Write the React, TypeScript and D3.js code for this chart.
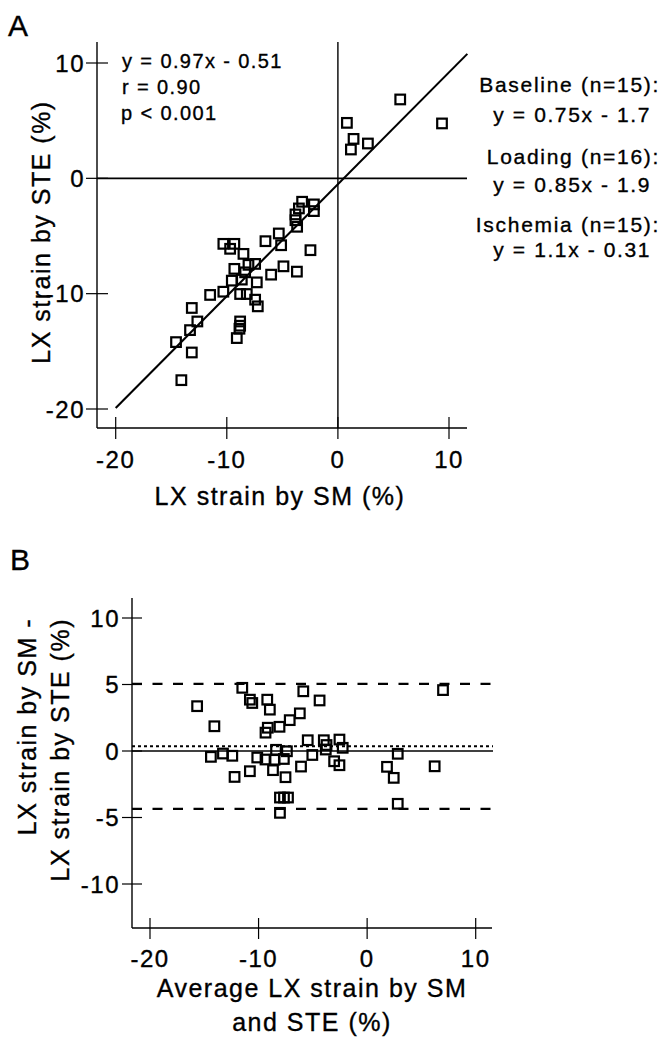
import React, { useEffect, useRef } from 'react';
import * as d3 from 'd3';

// Panel A: LX strain by SM (x) vs LX strain by STE (y), in %
const smStrain = [
  5.61, 9.37, 0.81, 1.41, 1.17, 2.7,
  -3.22, -2.16, -3.51, -2.16, -3.82, -3.82, -3.67, -5.32, -5.11, -6.52, -2.47,
  -10.31, -9.32, -9.7, -8.5, -8.05, -7.45, -9.32, -8.35, -6.01, -4.9, -3.69,
  -9.55, -8.65, -7.3, -11.5, -10.31, -8.8, -8.2, -7.45, -7.21,
  -13.15, -12.65, -13.31, -14.57, -13.15, -8.8, -8.8, -8.86, -9.1, -14.09
];
const steStrain = [
  6.84, 4.76, 4.81, 3.42, 2.5, 3.02,
  -2.03, -2.26, -2.61, -2.84, -3.13, -3.63, -4.2, -4.78, -5.8, -5.45, -6.23,
  -5.68, -5.68, -6.11, -6.55, -7.5, -7.42, -7.85, -8.15, -8.35, -7.63, -8.09,
  -8.87, -8.78, -9.02, -10.11, -9.83, -10.03, -10.03, -10.52, -11.1,
  -11.24, -12.41, -13.16, -14.2, -15.1, -12.41, -12.78, -13.04, -13.85, -17.5
];

// Panel B: Bland-Altman, average (x) vs difference SM - STE (y)
const avgStrain = [
  -11.5, -15.66, -10.8, -10.58, -9.2, -8.96, -5.88, -4.38, -14.07, -9.36,
  -9.15, -8.07, -7.13, -6.2, -5.47, -3.99, -3.74, -14.39, -13.28, -12.42,
  -10.12, -9.36, -8.39, -8.53, -7.67, -7.39, -5.05, -12.21, -10.8, -8.67,
  -7.52, -6.09, -8.03, -7.66, -7.29, -8.03, -2.55, -2.25, -3.81, -3.04,
  -2.55, 2.82, 1.83, 2.45, 6.22, 6.99, 2.82
];
const diffStrain = [
  4.75, 3.37, 3.86, 3.61, 3.86, 3.11, 4.49, 3.8, 1.86, 1.38,
  1.75, 1.82, 2.32, 2.83, 0.81, 0.81, 0.45, -0.44, -0.19, -0.36,
  -0.49, -0.64, 0.09, -0.66, -0.6, -0.02, -0.3, -1.95, -1.52, -1.44,
  -1.97, -1.17, -3.5, -3.5, -3.5, -4.65, 0.86, 0.24, 0.11, -0.77,
  -1.07, -0.21, -1.19, -2.02, -1.15, 4.58, -3.97
];

// regression y = 0.97x - 0.51
const regSlope = 0.97;
const regIntercept = -0.51;
const meanDiff = 0.35;
const upperLimit = 5.05;
const lowerLimit = -4.35;

const xTicksA = [-20, -10, 0, 10];
const yTicksA = [-20, -10, 0, 10];
const xTicksB = [-20, -10, 0, 10];
const yTicksB = [-10, -5, 0, 5, 10];

const statsLines = ['y = 0.97x - 0.51', ' r = 0.90', 'p < 0.001'];
const groupHeaders = ['Baseline (n=15):', 'Loading (n=16):', 'Ischemia (n=15):'];
const groupEquations = ['y = 0.75x - 1.7', 'y = 0.85x - 1.9', 'y = 1.1x - 0.31'];

const FONT = '"Liberation Sans", Arial, Helvetica, sans-serif';

const App = () => {
  const svgRef = useRef<SVGSVGElement>(null);

  useEffect(() => {
    const svg = d3.select(svgRef.current);
    svg.selectAll('*').remove();

    const txt = (x: number, y: number, s: string, size: number, anchor = 'start', spacing = 1.2) =>
      svg.append('text')
        .attr('x', x).attr('y', y)
        .attr('text-anchor', anchor)
        .style('font-family', FONT)
        .style('font-size', `${size}px`)
        .style('letter-spacing', `${spacing}px`)
        .style('fill', 'black')
        .style('stroke', 'black')
        .style('stroke-width', '0.35px')
        .text(s);

    const line = (x1: number, y1: number, x2: number, y2: number, w = 1.4, dash: string | null = null) => {
      const l = svg.append('line')
        .attr('x1', x1).attr('y1', y1).attr('x2', x2).attr('y2', y2)
        .attr('stroke', 'black').attr('stroke-width', w);
      if (dash) l.attr('stroke-dasharray', dash);
      return l;
    };

    const squares = (xs: number[], ys: number[], sx: any, sy: any) => {
      svg.append('g').selectAll('rect')
        .data(xs.map((x, i) => [x, ys[i]]))
        .enter().append('rect')
        .attr('x', d => sx(d[0]) - 4.8)
        .attr('y', d => sy(d[1]) - 4.8)
        .attr('width', 9.6).attr('height', 9.6)
        .attr('fill', 'none')
        .attr('stroke', 'black')
        .attr('stroke-width', 2.2);
    };

    // ---------- Panel A ----------
    const xA = d3.scaleLinear().domain([-20, 10]).range([115.7, 449]);
    const yA = d3.scaleLinear().domain([-20, 10]).range([409, 63]);
    const axA = { left: 97, right: 467, top: 42, bottom: 428 };

    line(axA.left, axA.top, axA.left, axA.bottom);
    line(axA.left, axA.bottom, axA.right, axA.bottom);
    yTicksA.forEach(t => {
      line(axA.left - 11, yA(t), axA.left + 11, yA(t), 1.2);
      txt(axA.left - 12, yA(t) + 8.5, String(t), 24, 'end', 1.5);
    });
    xTicksA.forEach(t => {
      line(xA(t), axA.bottom - 11, xA(t), axA.bottom + 11, 1.2);
      txt(xA(t), 468, String(t), 24, 'middle', 1.5);
    });

    // zero reference lines
    line(axA.left, yA(0), axA.right, yA(0), 1.6);
    line(xA(0), axA.top, xA(0), axA.bottom, 1.4);

    // regression line
    const regX = [-20, 11.65];
    svg.append('path')
      .datum(regX)
      .attr('fill', 'none')
      .attr('stroke', 'black')
      .attr('stroke-width', 2.1)
      .attr('d', d3.line<number>().x(d => xA(d)).y(d => yA(regSlope * d + regIntercept)));

    squares(smStrain, steStrain, xA, yA);

    txt(8, 36, 'A', 30, 'start', 0);
    txt(122, 68, statsLines[0], 20, 'start', 1.4);
    txt(122, 94, statsLines[1], 20, 'start', 1.4);
    txt(121, 120, statsLines[2], 20, 'start', 1.4);

    groupHeaders.forEach((h, i) => {
      txt(660, [92, 164, 232][i], h, 21, 'end', 1.7);
      txt(651, [122, 192, 257][i], groupEquations[i], 21, 'end', 1.6);
    });

    txt(280, 505, 'LX strain by SM (%)', 25, 'middle', 1.5);
    svg.append('text')
      .attr('transform', 'translate(50,232) rotate(-90)')
      .attr('text-anchor', 'middle')
      .style('font-family', FONT)
      .style('font-size', '25px')
      .style('letter-spacing', '1.5px')
      .style('stroke', 'black')
      .style('stroke-width', '0.35px')
      .text('LX strain by STE (%)');

    // ---------- Panel B ----------
    const xB = d3.scaleLinear().domain([-20, 10]).range([150, 475.7]);
    const yB = d3.scaleLinear().domain([-10, 10]).range([884, 618]);
    const axB = { left: 132, right: 492, top: 598, bottom: 928 };

    line(axB.left, axB.top, axB.left, axB.bottom);
    line(axB.left, axB.bottom, axB.right, axB.bottom);
    yTicksB.forEach(t => {
      line(axB.left - 10, yB(t), axB.left + 10, yB(t), 1.2);
      txt(axB.left - 12, yB(t) + 8.5, String(t), 24, 'end', 1.5);
    });
    xTicksB.forEach(t => {
      line(xB(t), axB.bottom - 10, xB(t), axB.bottom + 11, 1.2);
      txt(xB(t), 967, String(t), 24, 'middle', 1.5);
    });

    line(axB.left, yB(0), 493, yB(0), 1.6);
    line(axB.left, yB(meanDiff), 493, yB(meanDiff), 2, '3,3');
    line(axB.left, yB(upperLimit), 493, yB(upperLimit), 2.2, '10,10.5');
    line(axB.left, yB(lowerLimit), 493, yB(lowerLimit), 2.2, '10,10.5');

    squares(avgStrain, diffStrain, xB, yB);

    txt(10, 570, 'B', 30, 'start', 0);
    txt(312, 997, 'Average LX strain by SM', 25, 'middle', 1.5);
    txt(312, 1031, 'and STE (%)', 25, 'middle', 1.5);

    const yLabB = svg.append('text')
      .attr('text-anchor', 'end')
      .style('font-family', FONT)
      .style('font-size', '25px')
      .style('letter-spacing', '1.5px')
      .style('stroke', 'black')
      .style('stroke-width', '0.35px');
    yLabB.append('tspan').attr('x', -618).attr('y', 36).text('LX strain by SM -');
    yLabB.append('tspan').attr('x', -618).attr('y', 69).text('LX strain by STE (%)');
    yLabB.attr('transform', 'rotate(-90)');
  }, []);

  return (
    <svg
      ref={svgRef}
      width={669}
      height={1043}
      style={{ position: 'absolute', left: 0, top: 0, background: 'white' }}
    />
  );
};

export default App;
